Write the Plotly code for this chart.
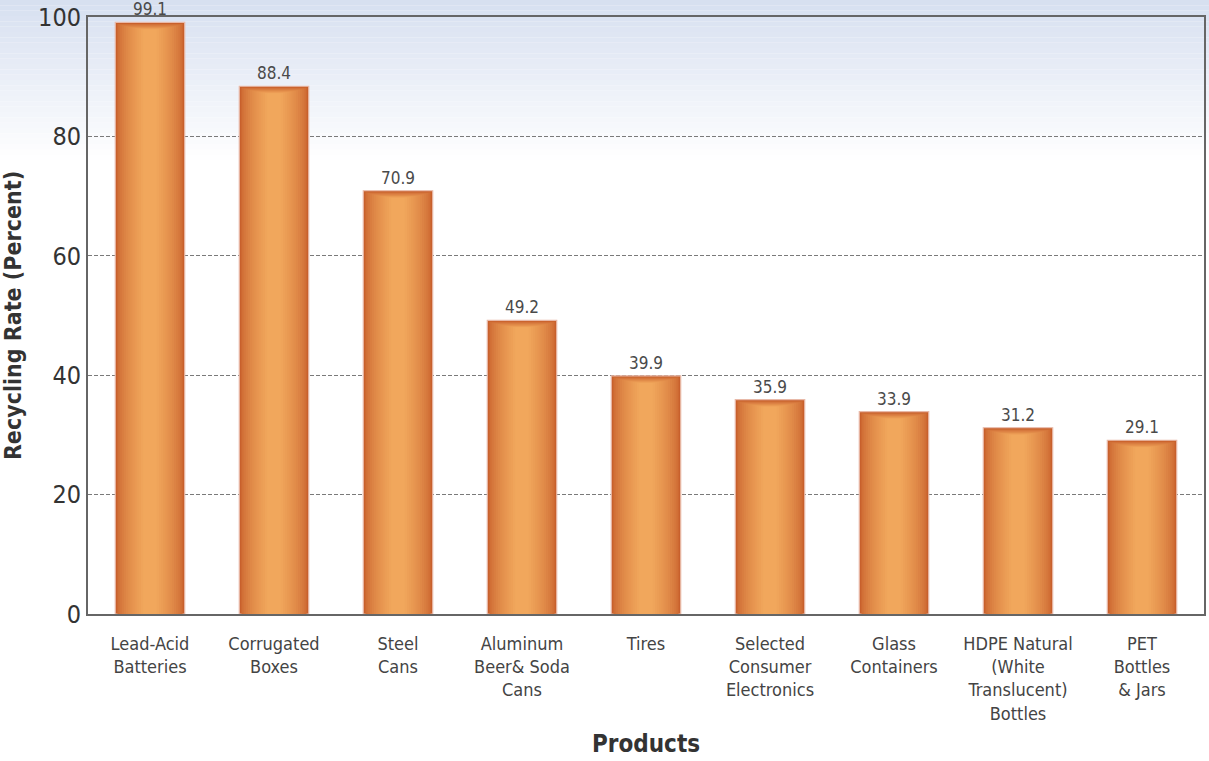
import plotly.graph_objects as go

categories = [
    "Lead-Acid<br>Batteries", "Corrugated<br>Boxes", "Steel<br>Cans",
    "Aluminum<br>Beer& Soda<br>Cans", "Tires", "Selected<br>Consumer<br>Electronics",
    "Glass<br>Containers", "HDPE Natural<br>(White<br>Translucent)<br>Bottles",
    "PET<br>Bottles<br>& Jars",
]
rates = [99.1, 88.4, 70.9, 49.2, 39.9, 35.9, 33.9, 31.2, 29.1]
y_ticks = [0, 20, 40, 60, 80, 100]

FONT = "Liberation Sans Narrow, DejaVu Sans Condensed, Roboto Condensed, Arial Narrow, sans-serif"


def lerp(c1, c2, t):
    return "rgb(%d,%d,%d)" % tuple(round(a + (b - a) * t) for a, b in zip(c1, c2))


fig = go.Figure()

# layered bars to emulate the horizontal/vertical gradient of the bars
edge = (200, 96, 44)
center = (241, 167, 92)
n_layers = 14
full_w = 0.56
for k in range(n_layers):
    t = k / (n_layers - 1)
    w = full_w * (1 - 0.8 * t)
    tt = (t ** 0.6)
    vals = [max(v - 1.2 * tt, 0) for v in rates]
    fig.add_trace(go.Bar(
        x=categories, y=vals if k else rates, width=w,
        marker=dict(color=lerp(edge, center, tt),
                    line=dict(color="#e8b9a8", width=1.2) if k == 0 else dict(width=0)),
        text=[f"{v:.1f}" for v in rates] if k == 0 else None,
        texttemplate="%{text}" if k == 0 else None,
        textposition="outside" if k == 0 else "none",
        textfont=dict(family=FONT, size=17, color="#4a4a4a"),
        cliponaxis=False,
        hoverinfo="skip" if k else None,
        showlegend=False,
    ))

# background gradient (light blue at top fading to white)
shapes = []
top_col = (214, 223, 240)
bot_col = (255, 255, 255)
steps = 30
y_top_px, y_end_px, H = 0, 160, 761
for i in range(steps):
    y0 = y_top_px + (y_end_px - y_top_px) * i / steps
    y1 = y_top_px + (y_end_px - y_top_px) * (i + 1) / steps
    shapes.append(dict(
        type="rect", xref="paper", yref="paper", layer="below",
        x0=-1, x1=2, y0=(H - 147 - y1) / (H - 147 - 17), y1=(H - 147 - y0) / (H - 147 - 17),
        fillcolor=lerp(top_col, bot_col, (i + 0.5) / steps), line=dict(width=0),
    ))

fig.update_layout(
    width=1209, height=761,
    margin=dict(l=88, r=3, t=17, b=147),
    paper_bgcolor="white", plot_bgcolor="rgba(0,0,0,0)",
    barmode="overlay", shapes=shapes,
    font=dict(family=FONT, color="#333"),
    xaxis=dict(
        tickfont=dict(family=FONT, size=18, color="#444"),
        showline=True, linecolor="#666", linewidth=2, mirror=True,
        ticks="", ticklabelstandoff=12,
        title=dict(text="<b>Products</b>", font=dict(family=FONT, size=24, color="#333"), standoff=12),
    ),
    yaxis=dict(
        range=[0, 100], tickvals=y_ticks,
        tickfont=dict(family=FONT, size=25, color="#333"),
        showline=True, linecolor="#666", linewidth=2, mirror=True,
        showgrid=True, gridcolor="#7a7a7a", griddash="4px,2px", gridwidth=1,
        zeroline=False, ticks="", ticklabelstandoff=0,
        title=dict(text="<b>Recycling Rate (Percent)</b>", font=dict(family=FONT, size=23, color="#333"), standoff=14),
    ),
)

fig.write_html("out.html")
